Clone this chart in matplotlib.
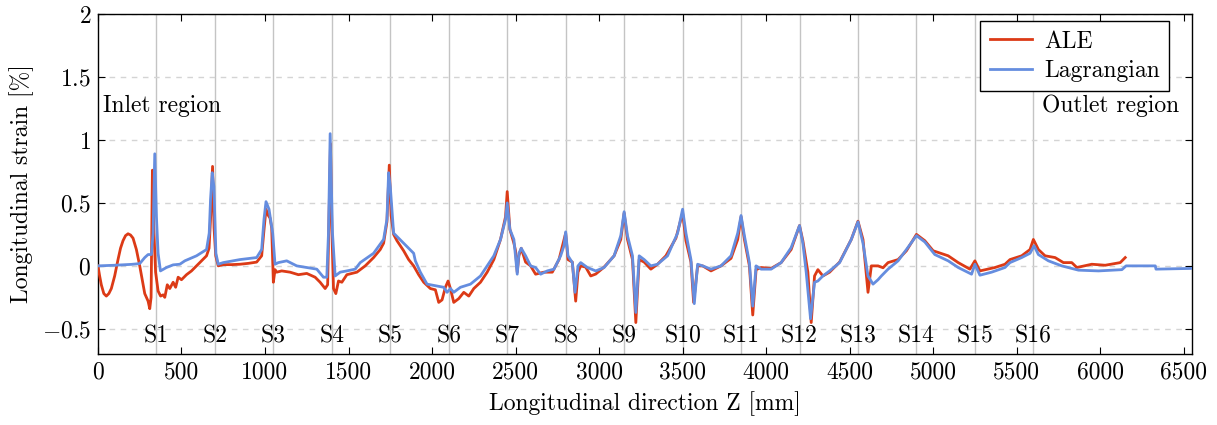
import matplotlib
matplotlib.use('Agg')
import matplotlib.pyplot as plt

plt.rcParams['font.family'] = 'serif'
plt.rcParams['font.serif'] = ['cmr10']
plt.rcParams['mathtext.fontset'] = 'cm'
plt.rcParams['axes.formatter.use_mathtext'] = True

# ALE strain along Z
ale_z = [0, 10, 20, 35, 50, 65, 80, 100, 120, 135, 150, 165, 180, 195, 210, 230, 250, 280, 300, 310, 318, 326, 334, 345,
         360, 375, 390, 400, 415, 430, 450, 465, 480, 500, 530, 560, 590, 620, 650, 665,
         675, 686, 695, 705, 720, 750, 800, 850, 900, 950, 980, 995, 1006, 1020, 1030, 1040,
         1050, 1060, 1070, 1100, 1150, 1200, 1250, 1300, 1330, 1360, 1375, 1385, 1392, 1400,
         1410, 1424, 1440, 1460, 1490, 1520, 1550, 1600, 1650, 1690, 1710, 1730, 1744, 1755,
         1770, 1790, 1830, 1860, 1890, 1920, 1950, 1990, 2020, 2040, 2060, 2080, 2096, 2110,
         2130, 2160, 2190, 2220, 2250, 2290, 2330, 2370, 2410, 2440, 2450, 2466, 2490, 2500,
         2510, 2520, 2534, 2560, 2590, 2620, 2670, 2720, 2760, 2790, 2800, 2814, 2840, 2860,
         2874, 2890, 2920, 2950, 2980, 3030, 3090, 3130, 3150, 3170, 3200, 3220, 3240, 3270,
         3310, 3350, 3400, 3460, 3490, 3500, 3520, 3550, 3566, 3590, 3620, 3670, 3730, 3790,
         3830, 3850, 3870, 3900, 3920, 3940, 3970, 4030, 4090, 4150, 4200, 4220, 4250, 4270,
         4290, 4310, 4340, 4380, 4440, 4510, 4550, 4580, 4610, 4630, 4670, 4700, 4730, 4790,
         4840, 4900, 4950, 5000, 5090, 5150, 5220, 5250, 5280, 5370, 5430, 5460, 5530, 5580,
         5600, 5630, 5670, 5730, 5780, 5830, 5860, 5950, 6030, 6120, 6150]
ale_strain = [0.0, -0.08, -0.15, -0.22, -0.24, -0.22, -0.18, -0.08, 0.05, 0.14, 0.2, 0.24, 0.255, 0.245, 0.22, 0.13, 0.0, -0.22, -0.28, -0.34, -0.25, 0.76, 0.3, -0.05,
              -0.2, -0.24, -0.23, -0.25, -0.15, -0.18, -0.13, -0.17, -0.09, -0.11, -0.07, -0.04, 0.0, 0.04, 0.08, 0.14,
              0.4, 0.79, 0.3, 0.08, 0.0, 0.01, 0.01, 0.013, 0.02, 0.03, 0.08, 0.3, 0.45, 0.4, 0.38, 0.3,
              -0.13, -0.03, -0.05, -0.04, -0.05, -0.07, -0.06, -0.09, -0.13, -0.18, -0.15, 0.5, 0.97, 0.3,
              -0.18, -0.22, -0.12, -0.13, -0.07, -0.06, -0.05, 0.0, 0.066, 0.13, 0.18, 0.35, 0.8, 0.4,
              0.25, 0.2, 0.12, 0.05, 0.0, -0.07, -0.13, -0.18, -0.19, -0.29, -0.27, -0.17, -0.12, -0.18,
              -0.29, -0.26, -0.21, -0.24, -0.18, -0.13, -0.05, 0.05, 0.21, 0.39, 0.59, 0.29, 0.18, 0.12,
              -0.05, 0.08, 0.14, 0.03, 0.0, -0.066, -0.05, -0.05, 0.05, 0.21, 0.26, 0.05, 0.03, -0.28,
              -0.05, 0.0, -0.01, -0.08, -0.065, -0.01, 0.08, 0.21, 0.42, 0.21, 0.05, -0.45, 0.05, 0.03,
              -0.026, 0.013, 0.08, 0.22, 0.37, 0.42, 0.2, 0.03, -0.29, 0.0, 0.0, -0.04, 0.0, 0.06,
              0.21, 0.39, 0.21, 0.0, -0.39, -0.03, -0.013, -0.02, 0.026, 0.13, 0.32, 0.2, -0.05, -0.45,
              -0.08, -0.03, -0.08, -0.05, 0.03, 0.21, 0.355, 0.21, -0.21, 0.0, 0.0, -0.015, 0.026, 0.05,
              0.12, 0.25, 0.2, 0.12, 0.08, 0.026, -0.026, 0.04, -0.04, -0.013, 0.013, 0.05, 0.08, 0.13,
              0.21, 0.13, 0.08, 0.066, 0.026, 0.026, -0.013, 0.013, 0.005, 0.026, 0.066]

# Lagrangian strain along Z
lag_z = [0, 100, 200, 250, 280, 300, 320, 330, 340, 350, 360, 374, 410, 450, 490, 520,
         590, 650, 666, 674, 684, 694, 706, 720, 750, 850, 950, 980, 994, 1006, 1024, 1046,
         1060, 1080, 1130, 1190, 1250, 1310, 1350, 1370, 1380, 1390, 1404, 1420, 1450, 1490,
         1540, 1570, 1650, 1710, 1730, 1740, 1750, 1770, 1830, 1890, 1900, 1930, 1970, 2030,
         2070, 2090, 2110, 2130, 2170, 2230, 2290, 2330, 2370, 2410, 2440, 2450, 2466, 2490,
         2510, 2520, 2534, 2560, 2590, 2620, 2650, 2690, 2730, 2770, 2790, 2800, 2814, 2840,
         2856, 2874, 2890, 2930, 2980, 3030, 3090, 3130, 3150, 3170, 3200, 3220, 3240, 3270,
         3310, 3350, 3410, 3470, 3500, 3520, 3550, 3570, 3590, 3620, 3670, 3730, 3790, 3830,
         3850, 3870, 3900, 3920, 3940, 3970, 4030, 4090, 4150, 4200, 4220, 4240, 4266, 4290,
         4310, 4340, 4380, 4440, 4510, 4550, 4580, 4610, 4640, 4670, 4690, 4730, 4790, 4840,
         4900, 4950, 5010, 5090, 5150, 5230, 5250, 5280, 5350, 5430, 5460, 5530, 5580, 5604,
         5630, 5690, 5770, 5870, 5990, 6130, 6155, 6330, 6334, 6550]
lag_strain = [0.0, 0.005, 0.012, 0.018, 0.066, 0.09, 0.09, 0.26, 0.89, 0.39, 0.1, -0.04, -0.013, 0.008, 0.013, 0.04,
              0.08, 0.13, 0.26, 0.53, 0.74, 0.63, 0.1, 0.013, 0.026, 0.05, 0.066, 0.13, 0.37, 0.51, 0.45, 0.26,
              0.013, 0.026, 0.04, 0.0, -0.013, -0.026, -0.09, -0.09, 0.26, 1.05, 0.26, -0.08, -0.05, -0.04,
              -0.026, 0.026, 0.1, 0.21, 0.37, 0.74, 0.63, 0.26, 0.18, 0.1, 0.04, -0.05, -0.145, -0.16,
              -0.17, -0.21, -0.18, -0.21, -0.17, -0.145, -0.08, 0.0, 0.08, 0.21, 0.37, 0.5, 0.29, 0.21,
              -0.066, 0.1, 0.14, 0.08, 0.0, -0.013, -0.066, -0.04, -0.026, 0.08, 0.16, 0.27, 0.08, 0.026,
              -0.21, 0.0, 0.026, -0.013, -0.04, -0.013, 0.08, 0.24, 0.43, 0.24, 0.08, -0.37, 0.08, 0.05,
              0.0, 0.013, 0.08, 0.26, 0.45, 0.26, 0.05, -0.3, 0.013, 0.0, -0.026, 0.0, 0.08, 0.26,
              0.40, 0.24, 0.026, -0.32, 0.0, -0.026, -0.026, 0.026, 0.145, 0.32, 0.18, -0.05, -0.42, -0.13,
              -0.12, -0.08, -0.04, 0.026, 0.21, 0.35, 0.18, -0.08, -0.145, -0.11, -0.08, -0.026, 0.04, 0.13,
              0.24, 0.19, 0.09, 0.04, -0.013, -0.066, 0.013, -0.074, -0.05, -0.013, 0.026, 0.066, 0.1, 0.16,
              0.09, 0.04, 0.0, -0.034, -0.04, -0.03, 0.0, 0.0, -0.026, -0.02]

section_z = [350, 700, 1050, 1400, 1750, 2100, 2450, 2800, 3150, 3500,
             3850, 4200, 4550, 4900, 5250, 5600]
section_names = ['S%d' % (i + 1) for i in range(len(section_z))]

x_ticks = list(range(0, 6501, 500))
y_ticks = [-0.5, 0, 0.5, 1, 1.5, 2]
y_ticklabels = ['$-0.5$', '$0$', '$0.5$', '$1$', '$1.5$', '$2$']

fs = 17

fig = plt.figure(figsize=(12.17, 4.25), dpi=100)
ax = fig.add_axes([0.0805, 0.167, 0.899, 0.8])

for z in section_z:
    ax.axvline(z, color='#c4c4c4', linewidth=1.0, zorder=1)
for y in y_ticks:
    ax.axhline(y, color='#d4d4d4', linewidth=1.0, linestyle=(0, (4, 4)), zorder=1)

ax.plot(ale_z, ale_strain, color='#dc3a16', linewidth=2.0, label='ALE', zorder=3)
ax.plot(lag_z, lag_strain, color='#658ddf', linewidth=2.0, label='Lagrangian', zorder=4)

for z, name in zip(section_z, section_names):
    ax.text(z, -0.56, name, ha='center', va='center', fontsize=fs, zorder=5)

ax.text(30, 1.27, 'Inlet region', ha='left', va='center', fontsize=fs)
ax.text(6470, 1.27, 'Outlet region', ha='right', va='center', fontsize=fs)

ax.set_xlim(0, 6550)
ax.set_ylim(-0.7, 2)
ax.set_xticks(x_ticks)
ax.set_xticklabels([str(t) for t in x_ticks])
ax.set_yticks(y_ticks)
ax.set_yticklabels(y_ticklabels)
ax.tick_params(direction='in', top=True, right=True, length=5, labelsize=fs, pad=5)
for s in ax.spines.values():
    s.set_linewidth(1.0)

ax.set_xlabel('Longitudinal direction Z [mm]', fontsize=fs, labelpad=6)
ax.set_ylabel('Longitudinal strain [%]', fontsize=fs, labelpad=6)

leg = ax.legend(loc='upper right', bbox_to_anchor=(0.979, 0.979), fontsize=fs,
                fancybox=False, edgecolor='black', framealpha=1, handlelength=1.8,
                handletextpad=0.5, borderaxespad=0.0, borderpad=0.4, labelspacing=0.3)
leg.get_frame().set_linewidth(1.0)

plt.savefig('out.png', dpi=100)
